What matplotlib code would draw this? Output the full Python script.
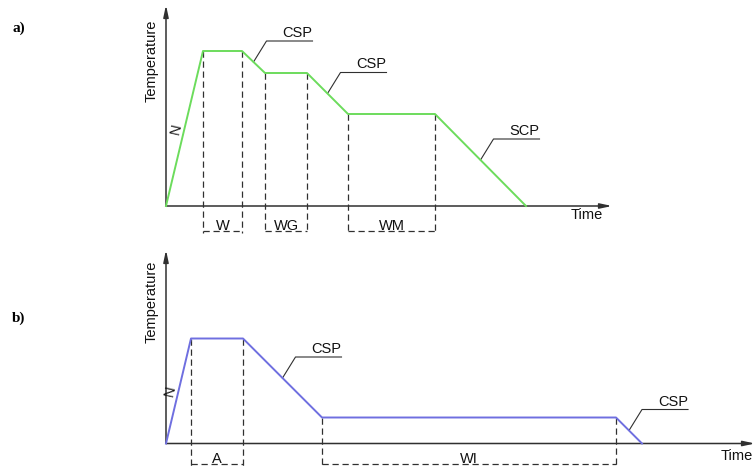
import matplotlib
matplotlib.use('Agg')
import matplotlib.pyplot as plt

plt.rcParams['font.family'] = ['Liberation Sans', 'DejaVu Sans']

# Schematic heat-treatment profiles (arbitrary units)
time_a = [0, 37, 76, 99, 141, 182, 269, 360]
temp_a = [0, 155, 155, 133, 133, 92, 92, 0]
stages_a = ['W', 'WG', 'WM']
spans_a = [(37, 76), (99, 141), (182, 269)]
notes_a = [('CSP', 2), ('CSP', 4), ('SCP', 6)]   # label, segment index

time_b = [0, 25, 77, 156, 450, 476]
temp_b = [0, 105, 105, 26, 26, 0]
stages_b = ['A', 'WI']
spans_b = [(25, 77), (156, 450)]
notes_b = [('CSP', 2), ('CSP', 4)]

GREEN = '#6cdc5c'
BLUE = '#6f6fe0'
INK = '#303030'

W, H = 756, 468
fig = plt.figure(figsize=(W / 100, H / 100), dpi=100)


def make_axes(x0, y0, x1, y1):
    # pixel box -> figure fraction
    return fig.add_axes([x0 / W, 1 - y1 / H, (x1 - x0) / W, (y1 - y0) / H])


def to_px(ax, x, y):
    return ax.transData.transform((x, y))


def to_data(ax, px, py):
    return ax.transData.inverted().transform((px, py))


def draw_panel(ax, t, T, color, stages, spans, notes, dim_y, xmax, ymax,
               time_xy, ylab_y):
    ax.set_xlim(0, xmax)
    ax.set_ylim(0, ymax)
    ax.axis('off')

    # axes with arrows
    ax.annotate('', xy=(xmax, 0), xytext=(0, 0),
                arrowprops=dict(arrowstyle='-|>,head_length=0.7,head_width=0.15',
                                color=INK, lw=1.1, shrinkA=0, shrinkB=0))
    ax.annotate('', xy=(0, ymax), xytext=(0, 0),
                arrowprops=dict(arrowstyle='-|>,head_length=0.7,head_width=0.15',
                                color=INK, lw=1.1, shrinkA=0, shrinkB=0))

    ax.plot(t, T, color=color, lw=1.4, zorder=3, clip_on=False)

    # dashed guides down to the dimension lines
    for x, y in zip(t[1:-1], T[1:-1]):
        ax.plot([x, x], [y, dim_y - 2], ls=(0, (5, 3)), color=INK, lw=0.9,
                clip_on=False, zorder=2)
    for lab, (s, e) in zip(stages, spans):
        ax.plot([s, e], [dim_y, dim_y], ls=(0, (5, 3)), color=INK, lw=0.9,
                clip_on=False)
        ax.text((s + e) / 2, dim_y + 0.5, lab, ha='center', va='baseline',
                fontsize=10.5, color='#111111')

    # leader notes: from middle of a cooling segment, up-right, then underline
    for lab, i in notes:
        xs = (t[i] + t[i + 1]) / 2
        ys = (T[i] + T[i + 1]) / 2
        px, py = to_px(ax, xs, ys)
        ex, ey = to_data(ax, px + 13, py + 21)
        ux, uy = to_data(ax, px + 13 + 46, py + 21)
        ax.plot([xs, ex, ux], [ys, ey, uy], color=INK, lw=0.8, clip_on=False)
        ax.text(ux, uy + 1, lab, ha='right', va='bottom', fontsize=10.5,
                color='#111111')

    # N label along the heating ramp
    px, py = to_px(ax, t[1] * 0.5, T[1] * 0.5)
    nx, ny = to_data(ax, px - 8, py)
    ax.text(nx, ny, 'N', rotation=77, ha='center', va='center', fontsize=10.5,
            color='#111111')

    ax.text(time_xy[0], time_xy[1], 'Time', ha='center', va='center',
            fontsize=10.5, color='#111111')
    ax.text(-14 / ax.bbox.width, ylab_y, 'Temperature', rotation=90,
            ha='center', va='center', fontsize=10.5, color='#111111',
            transform=ax.transAxes)


ax_a = make_axes(166, 5, 612, 206)
draw_panel(ax_a, time_a, temp_a, GREEN, stages_a, spans_a, notes_a,
           dim_y=-25, xmax=446, ymax=201, time_xy=(421, -9), ylab_y=0.72)

ax_b = make_axes(166, 250, 755, 443.5)
draw_panel(ax_b, time_b, temp_b, BLUE, stages_b, spans_b, notes_b,
           dim_y=-20, xmax=589, ymax=193.5, time_xy=(571, -12.5), ylab_y=0.73)

fig.text(19 / W, 1 - 28 / H, 'a)', ha='center', va='center', fontsize=11,
         fontweight='bold', family='Liberation Serif')
fig.text(19 / W, 1 - 318 / H, 'b)', ha='center', va='center', fontsize=11,
         fontweight='bold', family='Liberation Serif')

fig.savefig('out.png', dpi=100, facecolor='white')
